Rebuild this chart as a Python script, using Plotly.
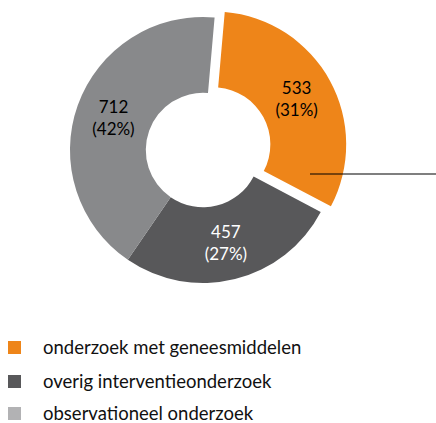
import plotly.graph_objects as go

labels = ["onderzoek met geneesmiddelen", "overig interventieonderzoek", "observationeel onderzoek"]
values = [533, 457, 712]
slice_colors = ["#EE8519", "#58585A", "#88898B"]
legend_colors = ["#EE8519", "#58585A", "#B2B2B4"]
text_colors = ["#000000", "#FFFFFF", "#000000"]
pulls = [0.087, 0, 0]

W, H = 436, 423
FONT = "Lato"

fig = go.Figure()
fig.add_trace(go.Pie(
    labels=labels, values=values, sort=False, direction="clockwise", rotation=5,
    hole=0.43, pull=pulls,
    marker=dict(colors=slice_colors, line=dict(width=0)),
    texttemplate="%{value}<br>(%{percent:.0%})",
    textposition="inside", insidetextorientation="horizontal",
    textfont=dict(family=FONT, size=17, color=text_colors),
    showlegend=False, hoverinfo="label+value+percent",
    domain=dict(x=[58.4 / W, 347.6 / W], y=[(H - 294.6) / H, (H - 5.4) / H]),
))

# pointer line
fig.add_shape(type="line", xref="paper", yref="paper",
              x0=310 / W, x1=1, y0=(H - 174) / H, y1=(H - 174) / H,
              line=dict(color="#000000", width=1.2))

# custom legend
rows_y = [347, 381, 413]
for lab, col, yy in zip(labels, legend_colors, rows_y):
    fig.add_shape(type="rect", xref="paper", yref="paper",
                  x0=8 / W, x1=21 / W, y0=(H - yy - 7) / H, y1=(H - yy + 6) / H,
                  fillcolor=col, line=dict(width=0))
    fig.add_annotation(xref="paper", yref="paper", x=42 / W, y=(H - yy) / H,
                       text=lab, showarrow=False, xanchor="left", yanchor="middle",
                       borderpad=0,
                       font=dict(family=FONT, size=18.5, color="#111111"))

fig.update_layout(width=W, height=H, margin=dict(l=0, r=0, t=0, b=0),
                  paper_bgcolor="white", plot_bgcolor="white")
fig.write_html("out.html")
